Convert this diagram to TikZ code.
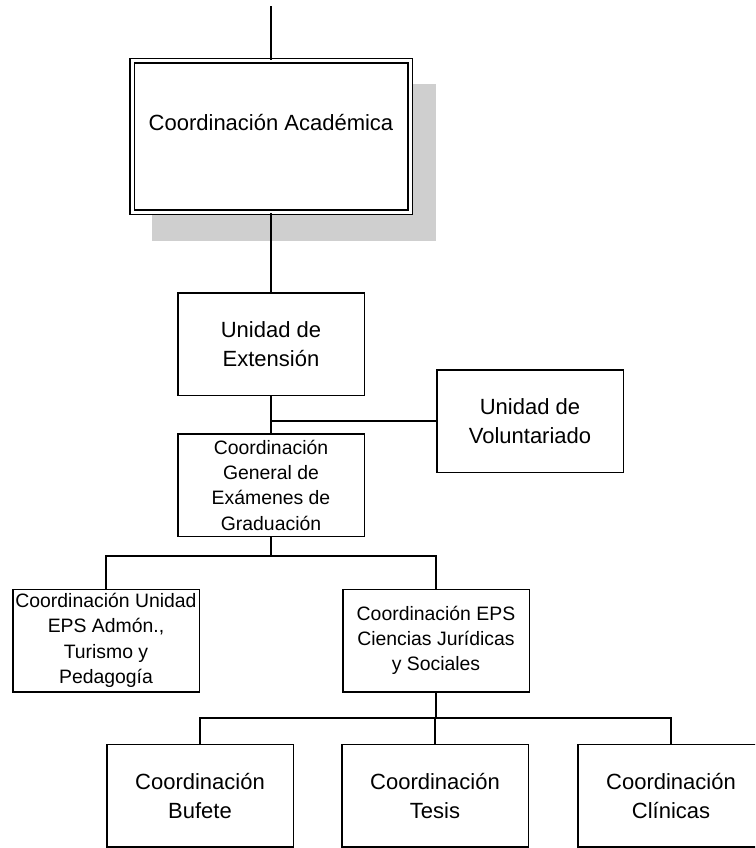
\documentclass[tikz,border=0pt]{standalone}
\usepackage{fontspec}
\setmainfont{Liberation Sans}
\begin{document}
\begin{tikzpicture}[x=1pt, y=-1pt, line width=1.5pt,
          orgbox/.style={draw, fill=white, inner sep=0pt, minimum width=186.5pt, minimum height=102.5pt,
            align=center, font=\fontsize{22}{29}\selectfont},
          smallbox/.style={orgbox, font=\fontsize{19.4}{25.3}\selectfont},
          topbox/.style={draw, double, double distance=3pt, fill=white, inner sep=0pt,
            minimum width=278pt, minimum height=151pt, align=center, font=\fontsize{22}{29}\selectfont},
          shadowfill/.style={fill=black!19, draw=none}]
        \clip (0,0) rectangle (755,848);
        % shadow and head box
        \fill[shadowfill] (152,84) rectangle (436,241);
        \node[topbox] (acad) at (271,136.5) {Coordinación Académica\\\mbox{}};
        \coordinate (head) at (271,6.5);
        % units
        \node[orgbox] (ext) at (271,344) {Unidad de\\Extensión};
        \node[orgbox] (vol) at (530,421) {Unidad de\\Voluntariado};
        \node[smallbox] (gen) at (271,485) {Coordinación\\General de\\Exámenes de\\Graduación};
        \node[smallbox] (admon) at (106,640.5) {Coordinación Unidad\\EPS Admón.,\\Turismo y\\Pedagogía};
        \node[smallbox] (juri) at (436,640.5) {Coordinación EPS\\Ciencias Jurídicas\\y Sociales};
        \foreach \boxname/\xpos/\boxtext in {buf/200/Bufete, tes/435/Tesis, cli/671/Clínicas} {
          \node[orgbox] (\boxname) at (\xpos,795.5) {Coordinación\\\boxtext};
        }
        % connectors
        \coordinate (busA) at (271,556);
        \coordinate (busB) at (435,718);
        \draw (head) -- (acad.north);
        \draw (acad.south) -- (ext.north);
        \draw (ext.south) -- (gen.north);
        \draw (ext.south |- vol.west) -- (vol.west);
        \draw (gen.south) -- (busA);
        \draw (admon.north) -- (admon.north |- busA) -- (juri.north |- busA) -- (juri.north);
        \draw (juri.south) -- (juri.south |- busB);
        \draw (buf.north) -- (buf.north |- busB) -- (cli.north |- busB) -- (cli.north);
        \draw (tes.north) -- (busB);
      \end{tikzpicture}
\end{document}
